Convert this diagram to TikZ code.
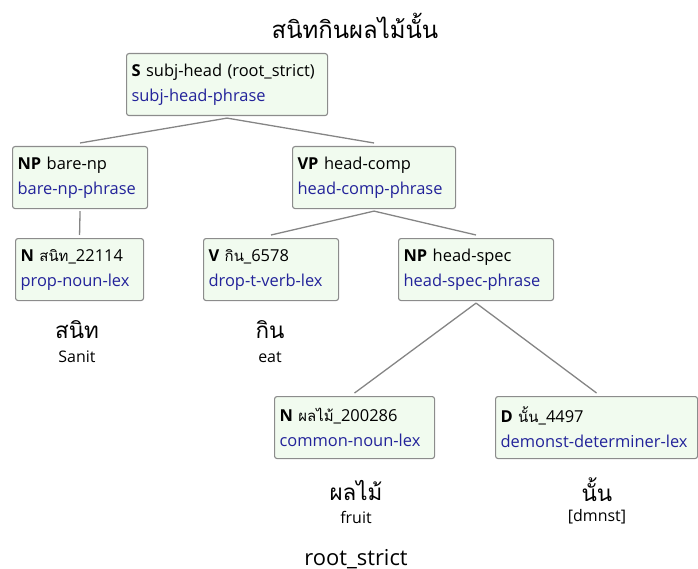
\documentclass[tikz,border=0pt]{standalone}
\usepackage{fontspec}
\setmainfont{Open Sans}
\newfontfamily\thai[Script=Thai]{Loma}
\definecolor{boxfill}{HTML}{F1FBEF}
\definecolor{boxline}{HTML}{8C8C8C}
\definecolor{typeblue}{HTML}{23239A}
\definecolor{edgegray}{HTML}{858585}
\tikzset{
  synbox/.style={draw=boxline, fill=boxfill, line width=1.1bp, rounded corners=2.5bp,
    anchor=north west, align=left, inner xsep=5bp, inner ysep=0bp,
    minimum height=62bp, font=\fontsize{16.5}{25}\selectfont},
  edge/.style={draw=edgegray, line width=1.3bp},
  word/.style={font=\thai\fontsize{22.5}{22.5}\selectfont},
  gloss/.style={font=\fontsize{16}{16}\selectfont},
}
\newcommand{\typ}[1]{\textcolor{typeblue}{#1}}
\newcommand{\tsm}[1]{{\thai\fontsize{15}{15}\selectfont #1}}
\begin{document}
\begin{tikzpicture}[x=1bp,y=-1bp]
\useasboundingbox (0,0) rectangle (698,569);
% sentence
\node[font=\thai\fontsize{24}{24}\selectfont] (sent) at (355,26) {สนิทกินผลไม้นั้น};
% phrase and lexical boxes
\node[synbox, text width=191bp] (s)   at (126,53)  {\textbf{S} subj-head (root\_strict)\\\typ{subj-head-phrase}};
\node[synbox, text width=125bp] (np1) at (12,146)  {\textbf{NP} bare-np\\\typ{bare-np-phrase}};
\node[synbox, text width=153bp] (vp)  at (292,146) {\textbf{VP} head-comp\\\typ{head-comp-phrase}};
\node[synbox, text width=118bp] (n1)  at (15,238)  {\textbf{N} \tsm{สนิท}\_22114\\\typ{prop-noun-lex}};
\node[synbox, text width=125bp] (v)   at (203,238) {\textbf{V} \tsm{กิน}\_6578\\\typ{drop-t-verb-lex}};
\node[synbox, text width=145bp] (np2) at (398,238) {\textbf{NP} head-spec\\\typ{head-spec-phrase}};
\node[synbox, text width=150bp] (n2)  at (274,396) {\textbf{N} \tsm{ผลไม้}\_200286\\\typ{common-noun-lex}};
\node[synbox, text width=192bp] (d)   at (495,396) {\textbf{D} \tsm{นั้น}\_4497\\\typ{demonst-determiner-lex}};
% connectors
\draw[edge] ([yshift=-2bp]s.south) -- ([yshift=3bp]np1.north);
\draw[edge] ([yshift=-2bp]s.south) -- ([yshift=3bp]vp.north);
\draw[edge] ([yshift=-2bp]np1.south) -- ([yshift=3bp]n1.north);
\draw[edge] ([yshift=-2bp]vp.south) -- ([yshift=3bp]v.north);
\draw[edge] ([yshift=-2bp]vp.south) -- ([yshift=3bp]np2.north);
\draw[edge] ([yshift=-2bp]np2.south) -- ([yshift=3bp]n2.north);
\draw[edge] ([yshift=-2bp]np2.south) -- ([yshift=3bp]d.north);
% surface words and glosses
\node[word]  (w1) at (77,330)  {สนิท};
\node[gloss] (g1) at (77,357)  {Sanit};
\node[word]  (w2) at (270,330) {กิน};
\node[gloss] (g2) at (270,357) {eat};
\node[word]  (w3) at (356,490) {ผลไม้};
\node[gloss] (g3) at (356,517) {fruit};
\node[word]  (w4) at (597,490) {นั้น};
\node[gloss] (g4) at (597,517) {[dmnst]};
% root condition
\node[font=\fontsize{22}{22}\selectfont, anchor=base] (root) at (356,565) {root\_strict};
\end{tikzpicture}
\end{document}
